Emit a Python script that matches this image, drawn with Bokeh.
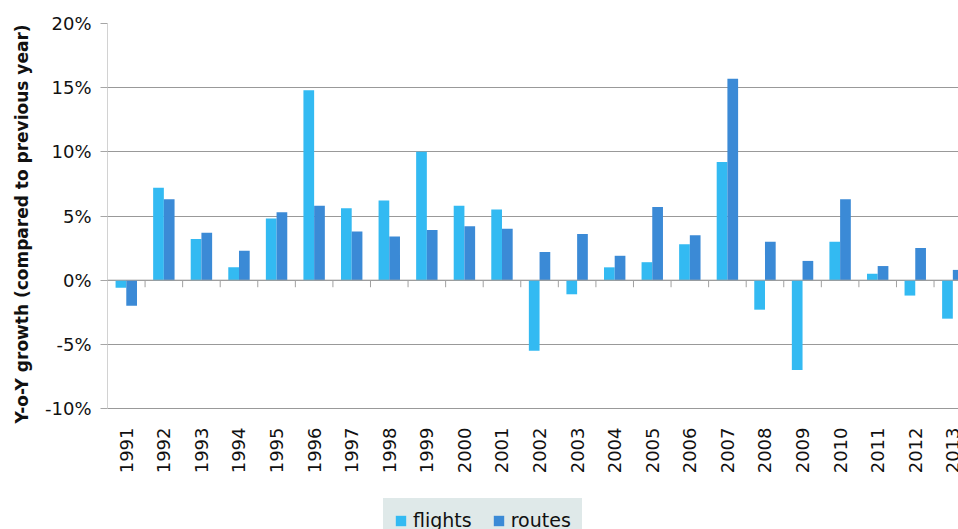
import math
from bokeh.plotting import figure
from bokeh.models import (Range1d, FixedTicker, PrintfTickFormatter, Span, Legend,
                          LegendItem, Title, ColumnDataSource)
from bokeh.core.properties import value
from bokeh.embed import file_html
from bokeh.resources import INLINE

# ---- data ----
years = ["1991", "1992", "1993", "1994", "1995", "1996", "1997", "1998", "1999", "2000",
         "2001", "2002", "2003", "2004", "2005", "2006", "2007", "2008", "2009", "2010",
         "2011", "2012", "2013"]
flights = [-0.6, 7.2, 3.2, 1.0, 4.8, 14.8, 5.6, 6.2, 10.0, 5.8,
           5.5, -5.5, -1.1, 1.0, 1.4, 2.8, 9.2, -2.3, -7.0, 3.0,
           0.5, -1.2, -3.0]
routes = [-2.0, 6.3, 3.7, 2.3, 5.3, 5.8, 3.8, 3.4, 3.9, 4.2,
          4.0, 2.2, 3.6, 1.9, 5.7, 3.5, 15.7, 3.0, 1.5, 6.3,
          1.1, 2.5, 0.8]
y_ticks = [-10, -5, 0, 5, 10, 15, 20]
series_names = ["flights", "routes"]
series_colors = ["#33baf2", "#3b8ad6"]

FONT = "DejaVu Sans"
n = len(years)
centers = [i + 0.5 for i in range(n)]
bar_w = 0.285

# layout geometry (pixels)
W, H = 958, 529
frame_left, frame_top, axis_bottom_px = 107, 23, 408
px_per_unit = (axis_bottom_px - frame_top) / (y_ticks[-1] - y_ticks[0])
y_start = y_ticks[0] - (H - axis_bottom_px) / px_per_unit
cat_px = 37.57
x_end = (W - frame_left) / cat_px

src = ColumnDataSource(dict(
    xf=[c - bar_w / 2 for c in centers],
    xr=[c + bar_w / 2 for c in centers],
    flights=flights,
    routes=routes,
))

p = figure(width=W, height=H, output_backend="svg", toolbar_location=None,
           x_range=Range1d(0, x_end), y_range=Range1d(y_start, y_ticks[-1]),
           x_axis_location=None,
           min_border_left=frame_left, min_border_right=0, min_border_top=frame_top,
           min_border_bottom=0)
p.outline_line_color = None
p.background_fill_color = "white"
p.border_fill_color = "white"

# grid
p.xgrid.visible = False
p.ygrid.ticker = FixedTicker(ticks=y_ticks)
p.ygrid.grid_line_color = "#999999"
p.ygrid.grid_line_width = 1

# y axis
ya = p.yaxis[0]
ya.ticker = FixedTicker(ticks=y_ticks)
ya.formatter = PrintfTickFormatter(format="%d%%")
ya.axis_line_color = None
ya.major_tick_line_color = "#a6a6a6"
ya.major_tick_out = 7
ya.major_tick_in = 0
ya.minor_tick_line_color = None
ya.major_label_text_font = FONT
ya.major_label_text_font_size = "18px"
ya.major_label_text_color = "#111111"
ya.major_label_standoff = 9
# value axis line (only over the value range)
p.segment(x0=[0], x1=[0], y0=[y_ticks[0]], y1=[y_ticks[-1]], line_color="#a6a6a6", line_width=1)

# y axis title
p.add_layout(Title(text="Y-o-Y growth (compared to previous year)", align="left",
                   text_font=FONT, text_font_size="17px", text_font_style="bold",
                   text_color="#111111", offset=H - 423, standoff=19), "left")

# bars
rf = p.vbar(x="xf", top="flights", bottom=0, width=bar_w, source=src,
            fill_color=series_colors[0], line_color=None)
rr = p.vbar(x="xr", top="routes", bottom=0, width=bar_w, source=src,
            fill_color=series_colors[1], line_color=None)

# category axis at zero with tick marks between categories
p.add_layout(Span(location=0, dimension="width", line_color="#a0a0a0", line_width=1))
bounds = list(range(1, n))
p.segment(x0=bounds, x1=bounds, y0=[0] * len(bounds), y1=[-0.55] * len(bounds),
          line_color="#a0a0a0", line_width=1)

# category labels under the plot area
p.text(x=centers, y=[y_ticks[0]] * n, text=years, angle=math.pi / 2,
       text_align="right", text_baseline="middle", y_offset=19,
       text_font=value(FONT), text_font_size="18px", text_color="#111111")

LEGEND_BG = "#dfe9e9"
legend = Legend(items=[LegendItem(label=series_names[0], renderers=[rf]),
                       LegendItem(label=series_names[1], renderers=[rr])],
                orientation="horizontal", location=(276, -13),
                background_fill_color=LEGEND_BG, background_fill_alpha=1.0,
                border_line_color=LEGEND_BG, border_line_alpha=1.0,
                padding=10, spacing=20, label_standoff=6,
                glyph_width=13, glyph_height=13, margin=0,
                label_text_font=FONT, label_text_font_size="19px",
                label_text_color="#111111")
p.add_layout(legend, "center")

open("out.html", "w").write(file_html(p, INLINE))
